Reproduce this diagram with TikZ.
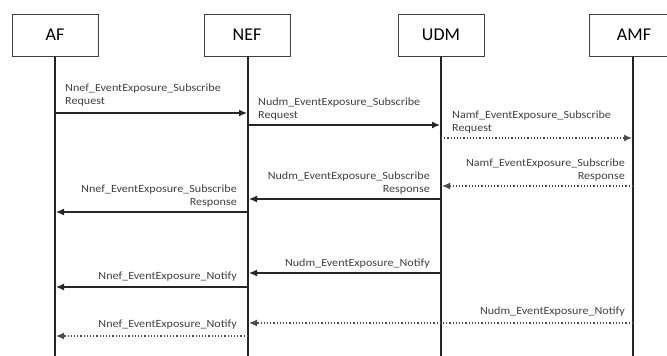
\documentclass[tikz,border=0pt]{standalone}
\usepackage{fontspec}
\setmainfont{Carlito}
\newfontfamily\lblfont[FakeStretch=1.1]{Carlito}
\usetikzlibrary{arrows.meta}
\begin{document}
\begin{tikzpicture}[x=1pt,y=-1pt,
  ent/.style={draw=black!75,line width=0.8pt,minimum width=86pt,minimum height=42pt,font=\fontsize{18}{20}\selectfont,inner sep=0pt},
  life/.style={line width=1.8pt,black!85},
  msg/.style={line width=1.2pt,black!85,-{Latex[length=8pt,width=7pt]}},
  dmsg/.style={line width=1.2pt,black!70,dotted,-{Latex[length=8pt,width=7pt]}},
  lbl/.style={font=\lblfont\fontsize{11}{13}\selectfont,text=black!75,inner sep=0pt,align=left},
  lblr/.style={font=\lblfont\fontsize{11}{13}\selectfont,text=black!75,inner sep=0pt,align=right}]
\useasboundingbox (0,0) rectangle (667,356);
% entities
\node[ent] (af) at (55,35) {AF};
\node[ent] (nef) at (247,35) {NEF};
\node[ent] (udm) at (441,35) {UDM};
\node[ent,minimum width=90pt] (amf) at (634,35) {AMF};
% lifeline ends
\coordinate (afe) at (55,356);
\coordinate (nefe) at (248,356);
\coordinate (udme) at (441,356);
\coordinate (amfe) at (633,356);
\draw[life] (af.south -| afe) -- (afe);
\draw[life] (nef.south -| nefe) -- (nefe);
\draw[life] (udm.south -| udme) -- (udme);
\draw[life] (amf.south -| amfe) -- (amfe);
% message endpoints
\coordinate (a1) at (55,113);  \coordinate (n1) at (247,113);
\coordinate (n2) at (248,125); \coordinate (u2) at (440,125);
\coordinate (u3) at (441,138); \coordinate (m3) at (632,138);
\coordinate (m4) at (633,186); \coordinate (u4) at (442,186);
\coordinate (u5) at (441,199); \coordinate (n5) at (249,199);
\coordinate (n6) at (248,212); \coordinate (a6) at (56,212);
\coordinate (u7) at (441,273); \coordinate (n7) at (249,273);
\coordinate (n8) at (248,287); \coordinate (a8) at (56,287);
\coordinate (m9) at (633,323); \coordinate (n9) at (249,323);
\coordinate (n10) at (248,336); \coordinate (a10) at (56,336);
\draw[msg] (a1) -- (n1);
\draw[msg] (n2) -- (u2);
\draw[dmsg] (u3) -- (m3);
\draw[dmsg] (m4) -- (u4);
\draw[msg] (u5) -- (n5);
\draw[msg] (n6) -- (a6);
\draw[msg] (u7) -- (n7);
\draw[msg] (n8) -- (a8);
\draw[dmsg] (m9) -- (n9);
\draw[dmsg] (n10) -- (a10);
% labels
\node[lbl,anchor=south west] (l1) at (65,106) {Nnef\_EventExposure\_Subscribe\\Request};
\node[lbl,anchor=south west] (l2) at (258,120) {Nudm\_EventExposure\_Subscribe\\Request};
\node[lbl,anchor=south west] (l3) at (452,133) {Namf\_EventExposure\_Subscribe\\Request};
\node[lblr,anchor=south east] (l4) at (625,181) {Namf\_EventExposure\_Subscribe\\Response};
\node[lblr,anchor=south east] (l5) at (430,194) {Nudm\_EventExposure\_Subscribe\\Response};
\node[lblr,anchor=south east] (l6) at (237,207) {Nnef\_EventExposure\_Subscribe\\Response};
\node[lblr,anchor=south east] (l7) at (430,268) {Nudm\_EventExposure\_Notify};
\node[lblr,anchor=south east] (l8) at (237,281) {Nnef\_EventExposure\_Notify};
\node[lblr,anchor=south east] (l9) at (625,316) {Nudm\_EventExposure\_Notify};
\node[lblr,anchor=south east] (l10) at (237,329) {Nnef\_EventExposure\_Notify};
\end{tikzpicture}
\end{document}
